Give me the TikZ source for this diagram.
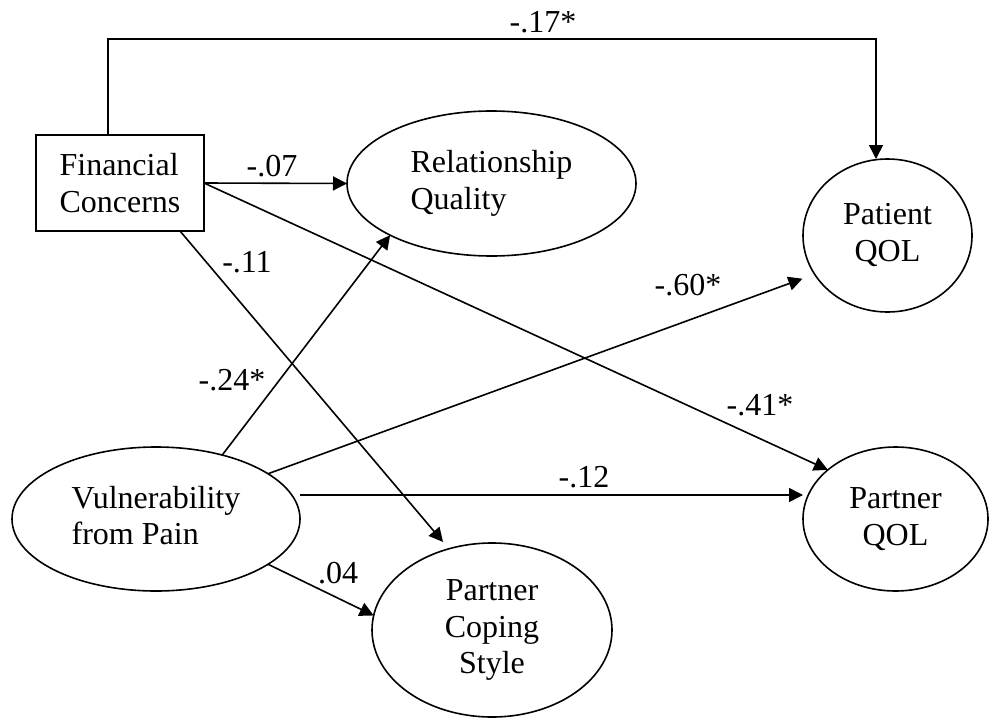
\documentclass[tikz,border=0pt]{standalone}
\usepackage{fontspec}
\setmainfont{Liberation Serif}
\usetikzlibrary{shapes.geometric,arrows.meta}
\begin{document}
\begin{tikzpicture}[x=0.5pt,y=-0.5pt,
  every node/.style={font=\fontsize{16}{18.3}\selectfont},
  box/.style={draw, rectangle, line width=0.8pt, minimum width=84pt, minimum height=48pt, align=left, inner sep=0pt, outer sep=0pt},
  oval/.style={draw, ellipse, line width=0.8pt, inner sep=0pt, outer sep=0pt, align=center},
  arr/.style={line width=0.8pt, -{Triangle[length=7pt,width=7pt]}},
  coef/.style={inner sep=0pt}]
\useasboundingbox (0,0) rectangle (989,717);
\node[box] (fin) at (120,183) {Financial\\Concerns};
\node[oval, minimum width=144.5pt, minimum height=72.5pt, align=left] (rq) at (491.5,183.5) {Relationship\\Quality};
\node[oval, minimum width=84.5pt, minimum height=76.5pt] (pat) at (887.5,235.5)
  {\raisebox{2.5pt}{\begin{tabular}{@{}c@{}}Patient\\QOL\end{tabular}}};
\node[oval, minimum width=144pt, minimum height=72pt] (vul) at (156,519)
  {\raisebox{2pt}{\begin{tabular}{@{}l@{}}Vulnerability\\from Pain\end{tabular}}};
\node[oval, minimum width=92.5pt, minimum height=72pt] (pqol) at (895.5,519) {Partner\\QOL};
\node[oval, minimum width=120pt, minimum height=87pt] (pcs) at (492,630)
  {\raisebox{-3.5pt}{\begin{tabular}{@{}c@{}}Partner\\Coping\\Style\end{tabular}}};
\coordinate (top) at (500,39);

\draw[arr] ([xshift=-6pt]fin.north) |- (top) -| ([xshift=-5.75pt]pat.north);
\draw[arr] (fin.east) -- (rq.west);
\draw[arr] (fin.east) -- (pqol.144);
\draw[arr, shorten >=4.5pt] ([xshift=30pt]fin.south) -- (pcs.118);
\draw[arr] (vul.44) -- (rq.207);
\draw[arr, shorten >=6.5pt] (vul.22) -- (pat.208);
\draw[arr] ([yshift=12pt]vul.east) -- ([yshift=12pt]pqol.west);
\draw[arr] (vul.-22) -- (pcs.173);

\node[coef] (l17) at (543,22) {-.17*};
\node[coef] (l07) at (272,166) {-.07};
\node[coef] (l11) at (247,262) {-.11};
\node[coef] (l24) at (232,380) {-.24*};
\node[coef] (l60) at (688,285) {-.60*};
\node[coef] (l41) at (760,405) {-.41*};
\node[coef] (l12) at (584,477) {-.12};
\node[coef] (l04) at (338,573) {.04};
\end{tikzpicture}
\end{document}
